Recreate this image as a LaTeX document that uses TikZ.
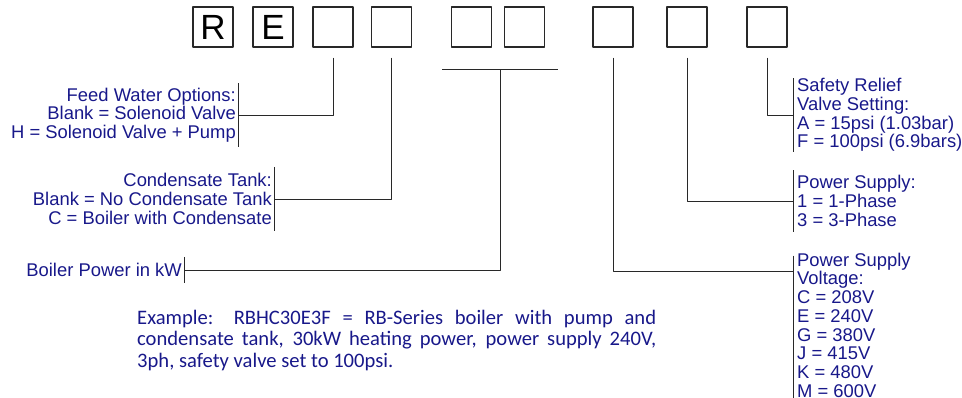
\documentclass[tikz,border=0pt]{standalone}
\usepackage{fontspec}
\setmainfont{Liberation Sans}
\newfontfamily\exfont{Carlito}
\definecolor{navy}{RGB}{24,24,138}
\definecolor{linec}{RGB}{40,40,40}
\newcommand{\lblsize}{\fontsize{18.4}{18.75}\selectfont}
\newcommand{\bigsize}{\fontsize{35}{37}\selectfont}
\tikzset{
	codebox/.style={draw=linec, line width=1.2pt, minimum size=40pt, inner sep=0pt, font=\bigsize},
	lbl/.style={text=navy, font=\lblsize, inner xsep=2pt, inner ysep=0pt},
	wire/.style={draw=linec, line width=1pt},
}
\begin{document}
\begin{tikzpicture}[x=1pt, y=-1pt, line join=round]
	\useasboundingbox (0,0) rectangle (962,397);
	% code boxes
	\node[codebox] (R) at (213,27) {R};
	\node[codebox] (E) at (273,27) {E};
	\node[codebox] (H) at (333,27) {};
	\node[codebox] (C) at (391.5,27) {};
	\node[codebox] (P1) at (471.5,27) {};
	\node[codebox] (P2) at (524.5,27) {};
	\node[codebox] (V) at (613,27) {};
	\node[codebox] (Ph) at (687,27) {};
	\node[codebox] (S) at (767,27) {};
	
	% left labels
	\node[lbl, align=right, anchor=east, minimum height=63pt] (feed) at (238,115) {Feed Water Options:\\Blank = Solenoid Valve\\H = Solenoid Valve + Pump};
	\node[lbl, align=right, anchor=east, minimum height=64pt] (cond) at (274,199) {Condensate Tank:\\Blank = No Condensate Tank\\C = Boiler with Condensate};
	\node[lbl, anchor=east, minimum height=26pt] (power) at (184,270) {Boiler Power in kW};
	
	% right labels
	\node[lbl, align=left, anchor=west, inner xsep=4pt, minimum height=64pt] (safe) at (793,115) {Safety Relief\\Valve Setting:\\A = 15psi (1.03bar)\\F = 100psi (6.9bars)};
	\node[lbl, align=left, anchor=west, inner xsep=4pt, minimum height=61pt] (phase) at (793,201) {Power Supply:\\1 = 1-Phase\\3 = 3-Phase};
	\node[lbl, align=left, anchor=north west, inner xsep=4pt] (volt) at (793,252.5) {Power Supply\\Voltage:\\C = 208V\\E = 240V\\G = 380V\\J = 415V\\K = 480V\\M = 600V};
	
	% brackets
	\foreach \n in {feed,cond,power} { \draw[wire] (\n.north east) -- (\n.south east); }
	\foreach \n in {safe,phase} { \draw[wire] (\n.north west) -- (\n.south west); }
	\draw[wire, shorten >=-8pt] ([yshift=-3pt]volt.north west) -- (volt.south west);
	
	% connectors
	\coordinate (pl) at (442,69);
	\coordinate (pr) at (558,69);
	\coordinate (pm) at (500,69);
	\coordinate (vj) at ([yshift=-18.5pt]volt.north west);
	\draw[wire] (pl) -- (pr);
	\draw[wire] ([yshift=-10pt]H.south) |- (feed.east);
	\draw[wire] ([yshift=-10pt]C.south) |- (cond.east);
	\draw[wire] (pm) |- (power.east);
	\draw[wire] ([yshift=-10pt]S.south) |- (safe.west);
	\draw[wire] ([yshift=-10pt]Ph.south) |- (phase.west);
	\draw[wire] ([yshift=-10pt]V.south) |- (vj);
	
	% example text
	\node[text=navy, anchor=north west, text width=519pt, align=justify, inner sep=0pt, font=\exfont\fontsize{20.6}{21.5}\selectfont] (example) at (137,309.5) {Example: RBHC30E3F = RB-Series boiler with pump and\linebreak condensate tank, 30kW heating power, power supply 240V,\linebreak 3ph, safety valve set to 100psi.};
\end{tikzpicture}
\end{document}
